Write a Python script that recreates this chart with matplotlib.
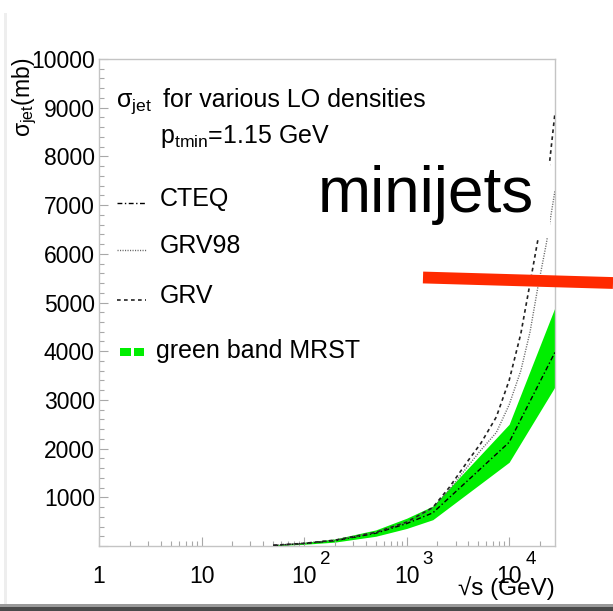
import matplotlib
matplotlib.use("Agg")
import matplotlib.pyplot as plt
from matplotlib.lines import Line2D
from matplotlib.patches import Rectangle
from matplotlib.ticker import FixedLocator, LogLocator, MultipleLocator, NullFormatter

plt.rcParams['font.family'] = ['Liberation Sans', 'DejaVu Sans']
plt.rcParams['mathtext.fontset'] = 'custom'
plt.rcParams['mathtext.rm'] = 'Liberation Sans'
plt.rcParams['mathtext.it'] = 'Liberation Sans:italic'
plt.rcParams['mathtext.bf'] = 'Liberation Sans:bold'

# ---- jet cross sections (mb) vs sqrt(s) (GeV) ----
band_sqrt_s = [50, 100, 200, 500, 1000, 1800, 10000, 28000]
mrst_low = [5, 35, 80, 200, 360, 540, 1720, 3270]
mrst_high = [20, 75, 145, 330, 570, 820, 2500, 4900]
cteq = [12, 52, 110, 262, 460, 680, 2130, 3980]

grv_sqrt_s = [50, 100, 200, 500, 1000, 1800, 2600, 4000, 5300, 7500,
              10000, 13000, 16000, 19000, 23000, 28000]
grv = [15, 55, 120, 280, 490, 790, 1200, 1760, 2110, 2650,
       3400, 4360, 5400, 6270, 7250, 8900]
grv98 = [15, 55, 120, 280, 490, 780, 1150, 1650, 1970, 2330,
         2900, 3600, 4400, 5300, 6200, 7300]

x_tick_values = [1, 10, 100, 1000, 10000]
x_tick_mantissas = ['1', '10', '10', '10', '10']
x_tick_exponents = ['', '', '2', '3', '4']
y_tick_values = list(range(0, 10001, 1000))
y_tick_labels = [''] + [str(v) for v in y_tick_values[1:]]

W, H = 613, 611


def fx(px):
    return px / W


def fy(py):
    return 1 - py / H


fig = plt.figure(figsize=(W / 100, H / 100), dpi=100)
fig.patch.set_facecolor('white')
ax = fig.add_axes([fx(99), fy(546), (555 - 99) / W, (546 - 59) / H])

ax.fill_between(band_sqrt_s, mrst_low, mrst_high, color='#00ee00', lw=0, zorder=1)
ax.plot(band_sqrt_s, cteq, color='black', lw=1.0, dashes=(3.5, 1.8, 1, 1.8), zorder=3)
ax.plot(grv_sqrt_s, grv98, color='#666666', lw=1.0, dashes=(0.8, 1.0), zorder=3)
ax.plot(grv_sqrt_s, grv, color='#222222', lw=1.2, dashes=(2.2, 2.0), zorder=3)

ax.set_xscale('log')
ax.set_xlim(1, 2.8e4)
ax.set_ylim(0, 10000)

ax.xaxis.set_major_locator(FixedLocator(x_tick_values))
ax.set_xticklabels(x_tick_mantissas)
ax.xaxis.set_minor_locator(LogLocator(base=10, subs=range(2, 10)))
ax.xaxis.set_minor_formatter(NullFormatter())
ax.yaxis.set_major_locator(FixedLocator(y_tick_values))
ax.set_yticklabels(y_tick_labels)
ax.yaxis.set_minor_locator(MultipleLocator(200))

ax.tick_params(axis='both', which='both', direction='in', color='#a8a8a8',
               top=False, right=False)
ax.tick_params(axis='both', which='major', length=6.5, width=0.8)
ax.tick_params(axis='both', which='minor', length=3.5, width=0.8)
ax.tick_params(axis='x', which='major', labelsize=16.5, pad=26.5)
ax.tick_params(axis='y', which='major', labelsize=16.5, pad=3)
for lbl in ax.get_xticklabels():
    lbl.set_verticalalignment('baseline')

# powers of ten drawn as raised exponents next to the mantissa
for val, exp in zip(x_tick_values, x_tick_exponents):
    if exp:
        ax.annotate(exp, xy=(val, 0), xycoords=('data', 'axes fraction'),
                    xytext=(16, -18), textcoords='offset pixels',
                    ha='left', va='baseline', fontsize=13.5,
                    annotation_clip=False)

for sp in ax.spines.values():
    sp.set_color('#c4c4c4')
    sp.set_linewidth(1.0)

# axis titles
fig.text(fx(25), fy(58), r'σ$_{\mathrm{jet}}$(mb)', rotation=90,
         ha='center', va='top', fontsize=16.5)
fig.text(fx(555), fy(595), '√s (GeV)', ha='right', va='baseline', fontsize=17.5)

# legend block
fig.text(fx(116), fy(107), r'σ$_{\mathrm{jet}}$', ha='left', va='baseline', fontsize=18)
fig.text(fx(163), fy(107), 'for various LO densities', ha='left', va='baseline', fontsize=18)
fig.text(fx(160), fy(143), r'p$_{\mathrm{tmin}}$=1.15 GeV', ha='left', va='baseline', fontsize=18)

entries = [
    ('CTEQ', 206, dict(color='black', lw=1.0, dashes=(3.5, 1.8, 1, 1.8))),
    ('GRV98', 253, dict(color='#666666', lw=1.0, dashes=(0.8, 1.0))),
    ('GRV', 303, dict(color='#222222', lw=1.2, dashes=(2.2, 2.0))),
]
for name, base, style in entries:
    fig.add_artist(Line2D([fx(117), fx(146)], [fy(base - 3)] * 2,
                          transform=fig.transFigure, **style))
    fig.text(fx(160), fy(base), name, ha='left', va='baseline', fontsize=18)

fig.add_artist(Rectangle((fx(120), fy(356)), 11 / W, 8 / H, transform=fig.transFigure,
                         color='#00ee00', lw=0))
fig.add_artist(Rectangle((fx(134), fy(356)), 10 / W, 8 / H, transform=fig.transFigure,
                         color='#00ee00', lw=0))
fig.text(fx(156), fy(358), 'green band MRST', ha='left', va='baseline', fontsize=18)

# annotation: label box and red bar
fig.text(fx(318), fy(212), 'minijets', ha='left', va='baseline', fontsize=46,
         bbox=dict(boxstyle='square,pad=0', facecolor='white', edgecolor='none'),
         zorder=5)
fig.add_artist(Rectangle((fx(300), fy(238)), (550 - 300) / W, (238 - 162) / H,
                         transform=fig.transFigure, color='white', lw=0, zorder=4))
fig.add_artist(Line2D([fx(423), fx(613)], [fy(277.5), fy(283)], transform=fig.transFigure,
                      color='#ff2a00', lw=8.5, solid_capstyle='butt', zorder=6))

# slide shadow along the lower and left edges
fig.add_artist(Rectangle((0, 0), 1, 4 / H, transform=fig.transFigure,
                         color='#4a4a4a', lw=0, zorder=7))
fig.add_artist(Rectangle((0, 4 / H), 1, 3 / H, transform=fig.transFigure,
                         color='#9a9a9a', lw=0, zorder=7))
fig.add_artist(Rectangle((fx(4), 7 / H), 3 / W, 1 - 20 / H, transform=fig.transFigure,
                         color='#eeeeee', lw=0, zorder=7))

fig.savefig('out.png', dpi=100)
